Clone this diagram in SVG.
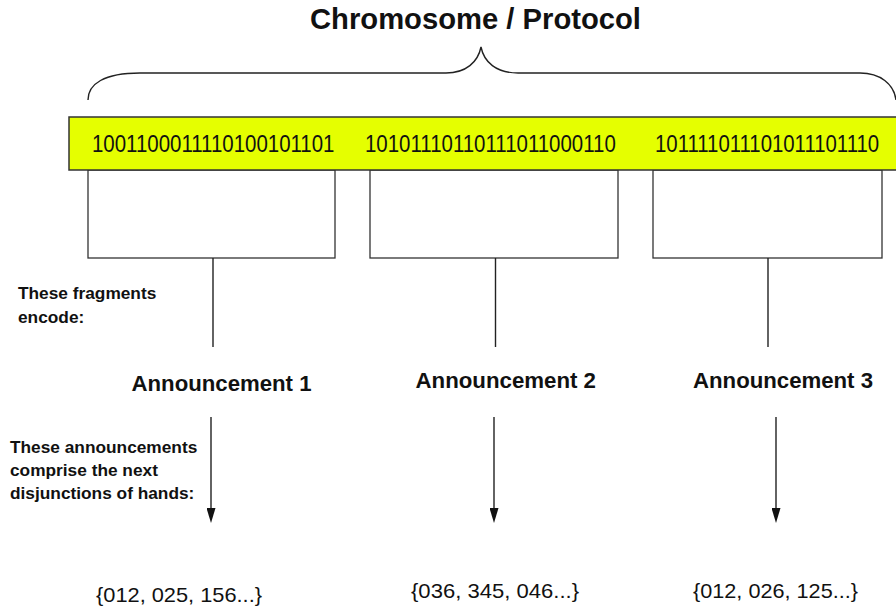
<svg xmlns="http://www.w3.org/2000/svg" width="896" height="612" viewBox="0 0 896 612">
  <style>
    .t { font-family: "Liberation Sans", Arial, Helvetica, sans-serif; fill: #111; }
    .b { font-weight: bold; }
    .bits { font-family: "Liberation Sans", Arial, sans-serif; font-size: 24px; fill: #111; }
    .box { fill: #fff; stroke: #333; stroke-width: 1.3; }
    .ln { stroke: #222; stroke-width: 1.4; fill: none; }
  </style>
  <defs>
    <marker id="ah" viewBox="0 0 15 9" refX="2" refY="4.5" markerWidth="15" markerHeight="9" markerUnits="userSpaceOnUse" orient="auto">
      <path d="M0,0 L15,4.5 L0,9 z" fill="#111"/>
    </marker>
  </defs>
  <rect width="896" height="612" fill="#fff"/>

  <g id="title">
    <text class="t b" x="475.5" y="29" font-size="30" text-anchor="middle" textLength="331" lengthAdjust="spacingAndGlyphs">Chromosome / Protocol</text>
  </g>

  <g id="brace">
    <path class="ln" d="M88,100 C88,84 104,73 140,73 L446,73 C466,73 478,62 481,47 C484,62 496,73 518,73 L860,73 C880,73 894,84 896,100"/>
  </g>

  <g id="fragment-boxes">
    <rect id="box1" class="box" x="88" y="170" width="247" height="88"/>
    <rect id="box2" class="box" x="370" y="170" width="248" height="88"/>
    <rect id="box3" class="box" x="653" y="170" width="229" height="88"/>
  </g>

  <g id="chromosome-bar">
    <rect x="69" y="117" width="828" height="53" fill="#e5ff00" stroke="#333" stroke-width="1.5"/>
    <text class="bits" transform="translate(92,152) scale(0.852,1)">1001100011110100101101</text>
    <text class="bits" transform="translate(365,152) scale(0.852,1)">10101110110111011000110</text>
    <text class="bits" transform="translate(655,152) scale(0.848,1)">101111011101011101110</text>
  </g>

  <g id="label-fragments">
    <text class="t b" font-size="17.3"><tspan x="18" y="299">These fragments</tspan><tspan x="18" y="322.5">encode:</tspan></text>
  </g>

  <g id="label-announcements">
    <text class="t b" font-size="17.3"><tspan x="10" y="452.5">These announcements</tspan><tspan x="10" y="475.5">comprise the next</tspan><tspan x="10" y="498.5">disjunctions of hands:</tspan></text>
  </g>

  <g id="announcement1">
    <text class="t b" x="131.5" y="391" font-size="22" textLength="180" lengthAdjust="spacingAndGlyphs">Announcement 1</text>
  </g>
  <g id="announcement2">
    <text class="t b" x="415.5" y="388" font-size="22" textLength="180.5" lengthAdjust="spacingAndGlyphs">Announcement 2</text>
  </g>
  <g id="announcement3">
    <text class="t b" x="693" y="388" font-size="22" textLength="180" lengthAdjust="spacingAndGlyphs">Announcement 3</text>
  </g>

  <g id="set1">
    <text class="t" x="96" y="601.5" font-size="21" textLength="166" lengthAdjust="spacingAndGlyphs">{012, 025, 156...}</text>
  </g>
  <g id="set2">
    <text class="t" x="411" y="598" font-size="21" textLength="168" lengthAdjust="spacingAndGlyphs">{036, 345, 046...}</text>
  </g>
  <g id="set3">
    <text class="t" x="693" y="598" font-size="21" textLength="165" lengthAdjust="spacingAndGlyphs">{012, 026, 125...}</text>
  </g>

  <g id="connectors">
    <line class="ln" x1="213" y1="258" x2="213" y2="347"/>
    <line class="ln" x1="495.5" y1="258" x2="495.5" y2="347"/>
    <line class="ln" x1="768" y1="258" x2="768" y2="347"/>
    <line class="ln" x1="211" y1="417" x2="211" y2="510" marker-end="url(#ah)"/>
    <line class="ln" x1="494" y1="417" x2="494" y2="510" marker-end="url(#ah)"/>
    <line class="ln" x1="776" y1="417" x2="776" y2="510" marker-end="url(#ah)"/>
  </g>
</svg>
